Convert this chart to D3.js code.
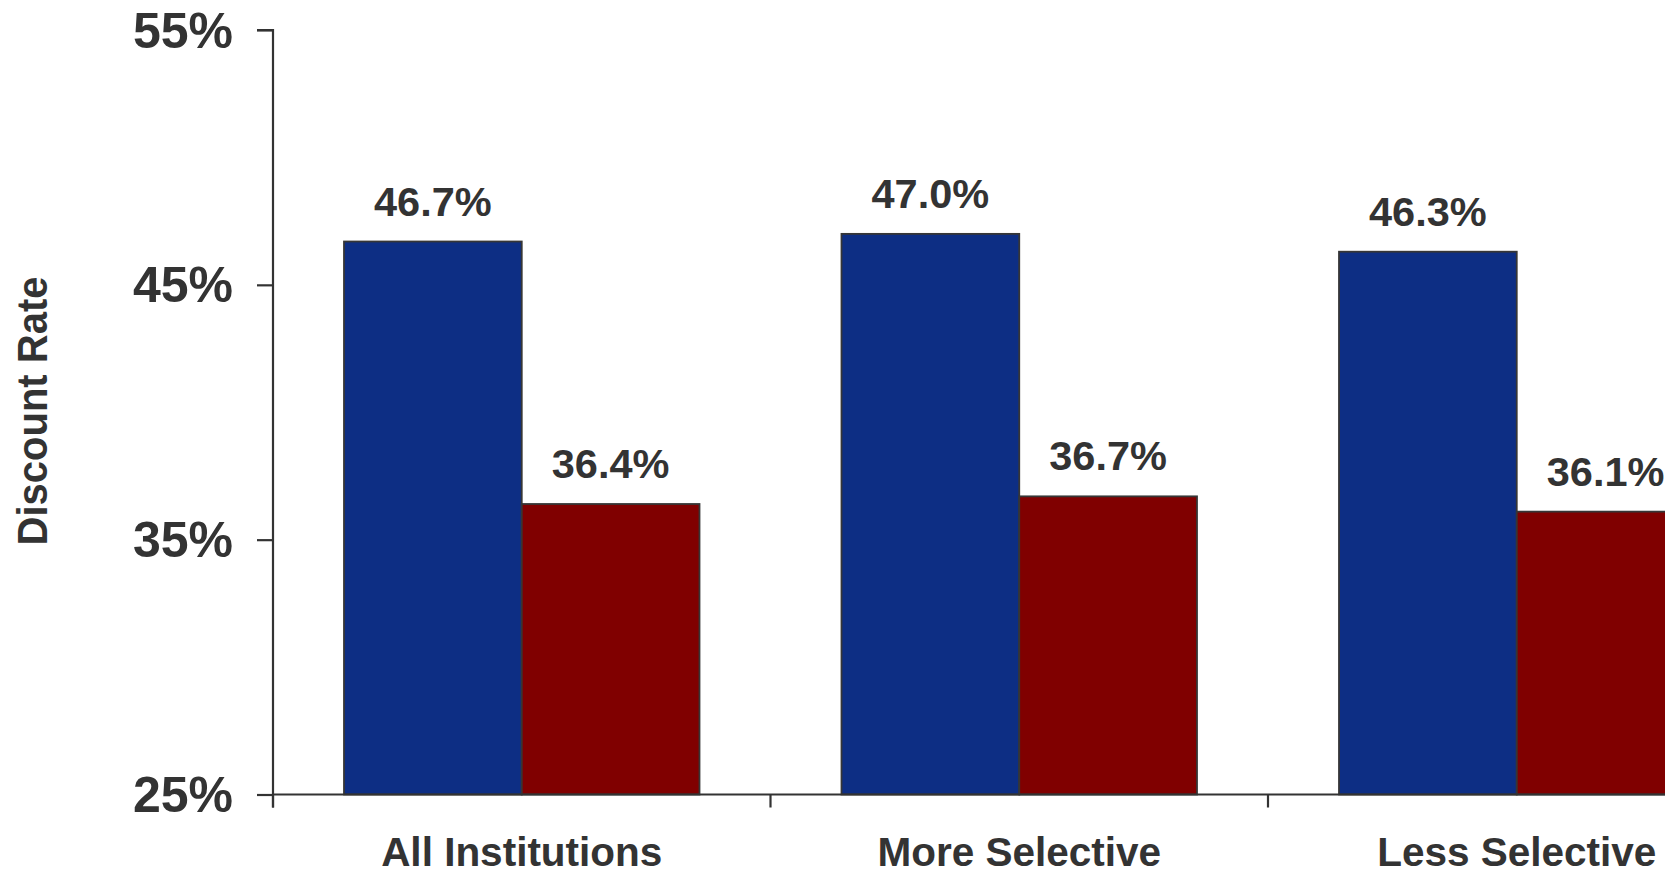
<!DOCTYPE html>
<html>
<head>
<meta charset="utf-8">
<script src="https://cdn.jsdelivr.net/npm/d3@7"></script>
<style>
  html, body { margin: 0; padding: 0; background: #fff; }
  svg { display: block; font-family: "Liberation Sans", Arial, sans-serif; font-weight: bold; }
</style>
</head>
<body>
<script>
// ---- data ----
const categories = ["All Institutions", "More Selective", "Less Selective"];
const seriesNames = ["Series 1", "Series 2"];
const series1Values = [46.7, 47.0, 46.3];
const series2Values = [36.4, 36.7, 36.1];
const yTicks = [25, 35, 45, 55];
const seriesColors = ["#0d2e84", "#800000"];

const W = 1678, H = 875;
const svg = d3.select("body").append("svg").attr("width", W).attr("height", H);

const axisX = 273, baseY = 794.5, topY = 30, bandW = 497.5, clipRight = 1665;
const textColor = "#333333";

const y = d3.scaleLinear().domain([25, 55]).range([baseY, topY]);
const x = d3.scaleBand().domain(categories).range([axisX, axisX + bandW * categories.length]).padding(0);
const xs = d3.scaleBand().domain(seriesNames).range([71, 426.5]).padding(0);

svg.append("clipPath").attr("id", "plotclip")
  .append("rect").attr("x", 0).attr("y", 0).attr("width", clipRight).attr("height", H);

const rows = categories.map((c, i) => ({ cat: c, vals: [series1Values[i], series2Values[i]] }));

// bars
const plot = svg.append("g").attr("clip-path", "url(#plotclip)");
const groups = plot.selectAll("g.cat").data(rows).join("g")
  .attr("class", "cat")
  .attr("transform", d => `translate(${x(d.cat)},0)`);

groups.selectAll("rect").data(d => d.vals.map((v, j) => ({ name: seriesNames[j], v, j })))
  .join("rect")
  .attr("x", d => xs(d.name))
  .attr("y", d => y(d.v))
  .attr("width", xs.bandwidth())
  .attr("height", d => baseY - y(d.v))
  .attr("fill", d => seriesColors[d.j])
  .attr("stroke", "#363636")
  .attr("stroke-width", 1.8);

// value labels
groups.selectAll("text.val").data(d => d.vals.map((v, j) => ({ name: seriesNames[j], v, j })))
  .join("text")
  .attr("class", "val")
  .attr("x", d => xs(d.name) + xs.bandwidth() / 2)
  .attr("y", d => y(d.v) - 26)
  .attr("text-anchor", "middle")
  .attr("font-size", 41.5)
  .attr("fill", textColor)
  .text(d => d.v.toFixed(1) + "%");

// x axis line + boundary ticks (clipped)
const xAxisG = plot.append("g");
xAxisG.append("line")
  .attr("x1", axisX).attr("x2", axisX + bandW * categories.length)
  .attr("y1", baseY).attr("y2", baseY)
  .attr("stroke", "#333").attr("stroke-width", 2.2);
xAxisG.selectAll("line.bt").data(categories)
  .join("line").attr("class", "bt")
  .attr("x1", d => x(d)).attr("x2", d => x(d))
  .attr("y1", baseY).attr("y2", baseY + 13)
  .attr("stroke", "#333").attr("stroke-width", 2.2);

// category labels
svg.selectAll("text.cat").data(categories).join("text")
  .attr("class", "cat")
  .attr("x", d => x(d) + x.bandwidth() / 2)
  .attr("y", 865.5)
  .attr("text-anchor", "middle")
  .attr("font-size", 40.5)
  .attr("fill", textColor)
  .text(d => d);

// y axis
const yAxis = d3.axisLeft(y).tickValues(yTicks).tickSize(16).tickPadding(24).tickFormat(d => d + "%");
const yg = svg.append("g").attr("transform", `translate(${axisX},0)`).call(yAxis);
yg.select(".domain").attr("stroke", "#333").attr("stroke-width", 2.2)
  .attr("d", `M-16,${topY}H0V${baseY + 13}`);
yg.selectAll(".tick line").attr("stroke", "#333").attr("stroke-width", 2.2);
yg.selectAll(".tick text")
  .attr("font-size", 50)
  .attr("font-family", "'Liberation Sans', Arial, sans-serif")
  .attr("font-weight", "bold")
  .attr("fill", textColor)
  .attr("dy", "0.34em");

// y axis title
svg.append("text")
  .attr("transform", "translate(47,411) rotate(-90) scale(1,1.08)")
  .attr("text-anchor", "middle")
  .attr("font-size", 40)
  .attr("fill", textColor)
  .text("Discount Rate");
</script>
</body>
</html>
